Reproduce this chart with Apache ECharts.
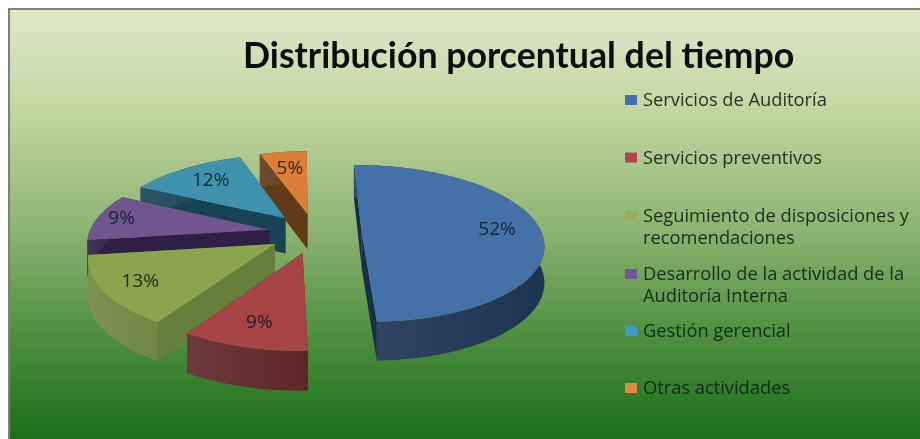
<!DOCTYPE html>
<html>
<head>
<meta charset="utf-8">
<script src="https://cdn.jsdelivr.net/npm/echarts@6/dist/echarts.min.js"></script>
<style>html,body{margin:0;padding:0;background:#fff}#chart{width:920px;height:439px}</style>
</head>
<body>
<div id="chart"></div>
<script>
var categories = ['Servicios de Auditoría', 'Servicios preventivos', 'Seguimiento de disposiciones y\nrecomendaciones', 'Desarrollo de la actividad de la\nAuditoría Interna', 'Gestión gerencial', 'Otras actividades'];
var values = [52, 9, 13, 9, 12, 5];
var topColors = ['#4472a8', '#a64446', '#8aa54b', '#70558f', '#3f92ad', '#dc7d38'];
var wallColors = ['#1d3352', '#5e2528', '#6f8741', '#2e1f47', '#174355', '#613a17'];
var cutColors = ['#1a2e4c', '#652a2c', '#667f3b', '#2e1f47', '#174355', '#613a17'];
var legendColors = ['#4472b0', '#b54446', '#97ad5c', '#76559c', '#3f9cc0', '#e58a42'];
var legendY = [100, 157.5, 216, 274, 331, 388];
var labelRadius = [0.76, 0.77, 0.8, 0.86, 0.73, 0.7];
// back to front
var drawOrder = [5, 4, 3, 0, 2, 1];

// fake 3d view of the pie plane
var cx = 315, cy = 233, radX = 180, radY = 77, persp = 0.146, explode = 0.26, depth = 36;
var total = values.reduce(function (a, b) { return a + b; }, 0);

function warp(deg) {
    return deg - 5 + 4.5 * Math.cos((deg - 5 - 340) * Math.PI / 180);
}
function planePoint(deg, r, bis) {
    var a = warp(deg) * Math.PI / 180, b = warp(bis) * Math.PI / 180;
    return [explode * Math.sin(b) + r * Math.sin(a), explode * Math.cos(b) + r * Math.cos(a)];
}
function project(p, drop) {
    var w = 1 + persp * p[1];
    var d = drop ? depth - 3 * p[1] : 0;
    return [cx + radX * p[0] / w, cy - radY * p[1] / w + d];
}
function startOf(i) {
    var s = 0;
    for (var j = 0; j < i; j++) s += values[j];
    return s / total * 360;
}

function renderSlice(params, api) {
    var i = api.value(0);
    var from = startOf(i), to = from + api.value(1) / total * 360, bis = (from + to) / 2;
    var apex = planePoint(bis, 0, bis);
    var rim = [];
    for (var d = from; d < to; d += 2) rim.push(planePoint(d, 1, bis));
    rim.push(planePoint(to, 1, bis));

    var topPts = [project(apex)], wallPts = [], wallBack = [];
    rim.forEach(function (p) {
        topPts.push(project(p));
        wallPts.push(project(p));
        wallBack.unshift(project(p, true));
    });
    function cut(p) {
        return [project(apex), project(p), project(p, true), project(apex, true)];
    }
    var grad = new echarts.graphic.LinearGradient(0, 0, 1, 0, [
        { offset: 0, color: echarts.color.lift(wallColors[i], 0.1) },
        { offset: 1, color: wallColors[i] }
    ]);
    var lab = project(planePoint(bis, labelRadius[i], bis));
    return {
        type: 'group',
        children: [
            { type: 'polygon', shape: { points: cut(rim[0]) }, style: { fill: cutColors[i] } },
            { type: 'polygon', shape: { points: cut(rim[rim.length - 1]) }, style: { fill: cutColors[i] } },
            { type: 'polygon', shape: { points: wallPts.concat(wallBack) }, style: { fill: grad } },
            { type: 'polygon', shape: { points: topPts }, style: { fill: topColors[i] } },
            { type: 'text', style: { x: lab[0], y: lab[1], text: api.value(1) + '%', fill: 'rgba(15,20,30,0.85)', font: '19px "Open Sans"', align: 'center', verticalAlign: 'middle' } }
        ]
    };
}

var legendGraphics = [{
    type: 'rect', z: -10,
    shape: { x: 9, y: 9, width: 912, height: 431 },
    style: {
        stroke: '#7f7f7f', lineWidth: 2,
        fill: new echarts.graphic.LinearGradient(0, 0, 0, 1, [
            { offset: 0, color: '#dfe8cb' },
            { offset: 0.22, color: '#c5d8a4' },
            { offset: 0.5, color: '#8fb573' },
            { offset: 0.75, color: '#4f9040' },
            { offset: 1, color: '#1a6e16' }
        ])
    }
}];
categories.forEach(function (name, i) {
    legendGraphics.push({ type: 'rect', shape: { x: 625, y: legendY[i] - 5, width: 12, height: 10 }, style: { fill: legendColors[i] } });
    legendGraphics.push({ type: 'text', style: { x: 643, y: legendY[i] - 10, text: name, fill: 'rgba(15,30,20,0.9)', font: '18.3px "Open Sans"', lineHeight: 22 } });
});

var chart = echarts.init(document.getElementById('chart'), null, { renderer: 'canvas' });
chart.setOption({
    animation: false,
    backgroundColor: '#fff',
    title: {
        text: 'Distribución porcentual del tiempo',
        left: 238, top: 33,
        textStyle: { fontFamily: 'Lato', fontWeight: 'bold', fontSize: 35.7, color: '#0d0d0d' }
    },
    graphic: legendGraphics,
    series: [{
        type: 'custom',
        coordinateSystem: 'none',
        renderItem: renderSlice,
        data: drawOrder.map(function (i) { return [i, values[i]]; })
    }]
});
</script>
</body>
</html>
